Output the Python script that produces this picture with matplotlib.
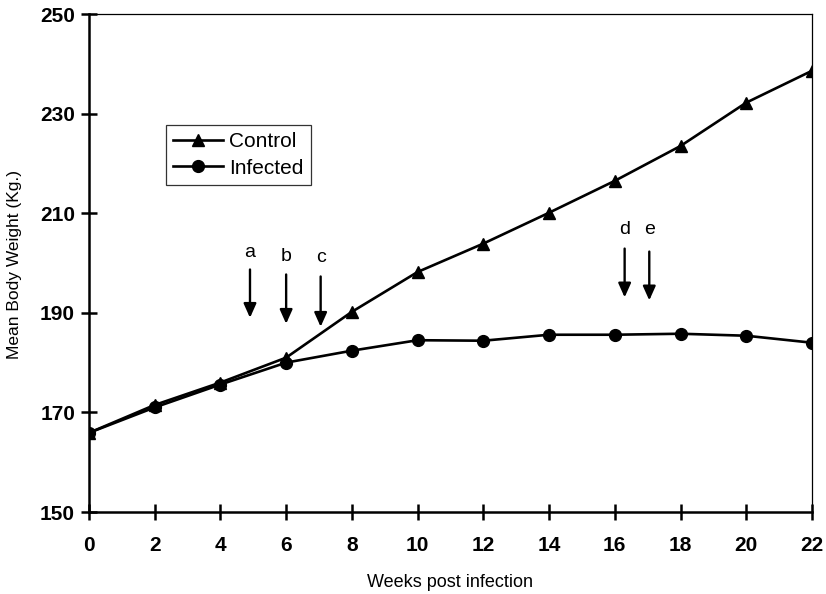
import matplotlib.pyplot as plt
import matplotlib as mpl

mpl.rcParams['font.family'] = ['Liberation Sans', 'DejaVu Sans']

# data
weeks = [0, 2, 4, 6, 8, 10, 12, 14, 16, 18, 20, 22]
control = [165.9, 171.5, 176.0, 181.0, 190.2, 198.2, 203.9, 210.1, 216.5, 223.5, 232.2, 238.6]
infected = [165.9, 171.0, 175.6, 180.0, 182.4, 184.5, 184.4, 185.6, 185.6, 185.8, 185.4, 184.0]

# event arrows: label, week, arrow top, arrow tip, label baseline
ev_labels = ['a', 'b', 'c', 'd', 'e']
ev_weeks = [4.9, 6.0, 7.05, 16.3, 17.05]
ev_top = [198.7, 197.7, 197.3, 202.9, 202.3]
ev_tip = [189.0, 187.8, 187.2, 193.1, 192.5]
ev_text_y = [201.3, 200.5, 200.2, 205.9, 205.9]

fig = plt.figure(figsize=(8.26, 5.94), dpi=100)
ax = fig.add_axes([0.1077, 0.138, 0.8753, 0.8384])

ax.plot(weeks, control, color='black', lw=1.9, marker='^', ms=8.5, label='Control')
ax.plot(weeks, infected, color='black', lw=1.9, marker='o', ms=8.5, label='Infected')

for lab, w, y0, y1, ty in zip(ev_labels, ev_weeks, ev_top, ev_tip, ev_text_y):
    ax.annotate('', xy=(w, y1), xytext=(w, y0),
                arrowprops=dict(arrowstyle='-|>,head_length=0.85,head_width=0.38',
                                color='black', lw=1.7, shrinkA=0, shrinkB=0))
    ax.text(w, ty, lab, ha='center', va='baseline', fontsize=14)

ax.set_xlim(0, 22)
ax.set_ylim(150, 250)
ax.set_xticks(range(0, 23, 2))
ax.set_yticks(range(150, 251, 20))
ax.tick_params(direction='inout', length=12, width=1.8, labelsize=15)
ax.tick_params(axis='x', pad=11)
ax.tick_params(axis='y', pad=4)
for t in ax.get_xticklabels() + ax.get_yticklabels():
    t.set_fontweight('bold')

ax.spines['left'].set_linewidth(1.8)
ax.spines['bottom'].set_linewidth(1.8)
ax.spines['top'].set_linewidth(0.9)
ax.spines['right'].set_linewidth(0.9)

ax.set_xlabel('Weeks post infection', fontsize=13)
ax.set_ylabel('Mean Body Weight (Kg.)', fontsize=12.5)
ax.xaxis.set_label_coords(0.499, -0.1406)
ax.yaxis.set_label_coords(-0.1024, 0.497)
ax.xaxis.label.set_va('center')
ax.yaxis.label.set_va('center')

leg = ax.legend(loc='upper left', bbox_to_anchor=(0.106, 0.777), fontsize=15,
                handlelength=2.4, frameon=True, fancybox=False, borderpad=0.35,
                labelspacing=0.35, handletextpad=0.3, borderaxespad=0)
leg.get_frame().set_edgecolor('black')
leg.get_frame().set_linewidth(0.9)

fig.savefig('out.png', dpi=100)
